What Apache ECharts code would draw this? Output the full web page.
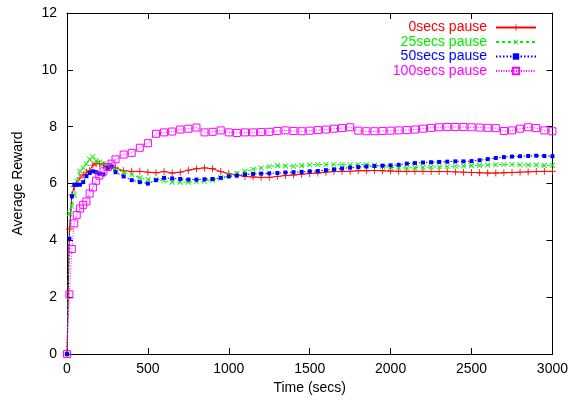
<!DOCTYPE html>
<html>
<head>
<meta charset="utf-8">
<script src="https://cdn.jsdelivr.net/npm/echarts@6/dist/echarts.min.js"></script>
<style>html,body{margin:0;padding:0;background:#fff}#c{width:571px;height:400px}</style>
</head>
<body>
<div id="c"></div>
<script>
var times = [0,15,30,45,60,80,100,120,140,160,180,200,225,250,275,300,
  350,400,450,500,550,600,650,700,750,800,850,900,950,1000,
  1050,1100,1150,1200,1250,1300,1350,1400,1450,1500,1550,1600,1650,1700,1750,1800,
  1850,1900,1950,2000,2050,2100,2150,2200,2250,2300,2350,2400,2450,2500,
  2550,2600,2650,2700,2750,2800,2850,2900,2950,3000];

var pause0 = [0,4.4,5.6,5.9,6.0,6.2,6.3,6.4,6.45,6.65,6.7,6.7,6.65,6.6,6.58,6.55,
  6.45,6.43,6.43,6.4,6.38,6.42,6.37,6.4,6.47,6.52,6.55,6.52,6.42,6.35,
  6.3,6.25,6.23,6.22,6.22,6.25,6.28,6.3,6.33,6.35,6.37,6.4,6.42,6.43,6.43,6.45,
  6.45,6.46,6.45,6.44,6.43,6.43,6.43,6.43,6.42,6.42,6.42,6.41,6.4,6.39,
  6.38,6.37,6.37,6.38,6.39,6.4,6.41,6.42,6.43,6.43];

var pause25 = [0,4.95,5.2,5.6,6.08,6.43,6.55,6.7,6.85,6.95,6.8,6.75,6.7,6.65,6.58,6.52,
  6.4,6.32,6.2,6.14,6.14,6.1,6.05,6.05,6.05,6.06,6.08,6.12,6.2,6.28,
  6.36,6.43,6.5,6.55,6.6,6.63,6.62,6.61,6.63,6.66,6.67,6.67,6.67,6.67,6.66,6.67,
  6.67,6.64,6.6,6.57,6.55,6.55,6.56,6.57,6.58,6.59,6.6,6.61,6.62,6.63,
  6.64,6.65,6.66,6.67,6.67,6.66,6.65,6.65,6.64,6.64];

var pause50 = [0,4.06,5.55,5.96,5.96,5.96,6.05,6.26,6.37,6.43,6.4,6.35,6.32,6.55,6.6,6.4,
  6.25,6.12,6.05,6.0,6.12,6.2,6.18,6.16,6.14,6.14,6.15,6.16,6.2,6.25,
  6.28,6.32,6.34,6.35,6.36,6.37,6.39,6.4,6.41,6.43,6.44,6.47,6.5,6.53,6.56,6.58,
  6.6,6.62,6.63,6.64,6.66,6.7,6.72,6.74,6.75,6.76,6.77,6.78,6.78,6.79,
  6.82,6.86,6.9,6.93,6.95,6.96,6.97,6.98,6.97,6.96];

var pause100 = [0,2.1,3.7,4.6,4.9,5.12,5.25,5.37,5.65,5.86,6.1,6.28,6.43,6.58,6.7,6.85,
  7.02,7.08,7.26,7.42,7.75,7.8,7.83,7.9,7.93,7.97,7.8,7.82,7.87,7.8,
  7.78,7.8,7.8,7.81,7.82,7.85,7.87,7.85,7.84,7.86,7.88,7.9,7.93,7.95,7.98,7.86,
  7.84,7.84,7.85,7.86,7.87,7.88,7.9,7.93,7.96,7.98,7.99,7.99,7.99,7.98,
  7.97,7.96,7.95,7.85,7.87,7.93,7.98,7.95,7.87,7.84];

var names = ['0secs pause','25secs pause','50secs pause','100secs pause'];
var colors = ['#ff0000','#00ee00','#0000ff','#ff00ff'];
var xTicks = [0,500,1000,1500,2000,2500,3000];
var yTicks = [0,2,4,6,8,10,12];

function pairs(v){ return times.map(function(t,i){ return [t, v[i]]; }); }

var font = 'Liberation Sans, Arial, Helvetica, sans-serif';
var plusPath = 'path://M4.4,0H5.6V10H4.4Z M0,4.4H10V5.6H0Z';

var series = [
  {name:names[0], data:pairs(pause0), symbol:plusPath, symbolSize:7,
   itemStyle:{color:colors[0]}, lineStyle:{color:colors[0], width:1, type:'solid'}},
  {name:names[1], data:pairs(pause25), symbol:plusPath, symbolSize:7, symbolRotate:45,
   itemStyle:{color:colors[1]}, lineStyle:{color:colors[1], width:1, type:[3,3]}},
  {name:names[2], data:pairs(pause50), symbol:'rect', symbolSize:4,
   itemStyle:{color:colors[2]}, lineStyle:{color:colors[2], width:1, type:[1.5,2]}},
  {name:names[3], data:pairs(pause100), symbol:'rect', symbolSize:7,
   itemStyle:{color:'rgba(255,255,255,0)', borderColor:colors[3], borderWidth:1}, lineStyle:{color:colors[3], width:1, type:[1,1.5]}}
].map(function(s){
  s.type='line'; s.showAllSymbol=true; s.animation=false; s.xAxisIndex=0; s.yAxisIndex=0; s.z=2;
  return s;
});

var legends = names.map(function(n,i){
  return {
    data:[n], right:34, top:20.5 + i*14.5, orient:'vertical', align:'right',
    itemWidth:40, itemHeight:8, itemGap:0, padding:0, selectedMode:false,
    textStyle:{color:colors[i], fontFamily:font, fontSize:14, padding:[0,4,0,0]}
  };
});

function axisBase(){
  return {
    type:'value', splitLine:{show:false},
    axisLine:{show:true, onZero:false, lineStyle:{color:'#000', width:1}},
    axisTick:{show:true, inside:true, length:6, lineStyle:{color:'#000'}}
  };
}

var option = {
  animation:false,
  backgroundColor:'#fff',
  grid:{left:67, right:15, top:13, bottom:45},
  legend:legends,
  xAxis:[
    Object.assign(axisBase(), {position:'bottom', min:0, max:3000, interval:500,
      name:'Time (secs)', nameLocation:'middle', nameGap:24,
      nameTextStyle:{color:'#000', fontFamily:font, fontSize:14},
      axisLabel:{color:'#000', fontFamily:font, fontSize:14, margin:8,
        formatter:function(v){ return xTicks.indexOf(v)>=0 ? String(v) : ''; }}}),
    Object.assign(axisBase(), {position:'top', min:0, max:3000, interval:500, axisLabel:{show:false}})
  ],
  yAxis:[
    Object.assign(axisBase(), {position:'left', min:0, max:12, interval:2,
      name:'Average Reward', nameLocation:'middle', nameGap:42,
      nameTextStyle:{color:'#000', fontFamily:font, fontSize:14},
      axisLabel:{color:'#000', fontFamily:font, fontSize:14, margin:10,
        formatter:function(v){ return yTicks.indexOf(v)>=0 ? String(v) : ''; }}}),
    Object.assign(axisBase(), {position:'right', min:0, max:12, interval:2, axisLabel:{show:false}})
  ],
  series:series
};

var chart = echarts.init(document.getElementById('c'), null, {renderer:'canvas'});
chart.setOption(option);
</script>
</body>
</html>
